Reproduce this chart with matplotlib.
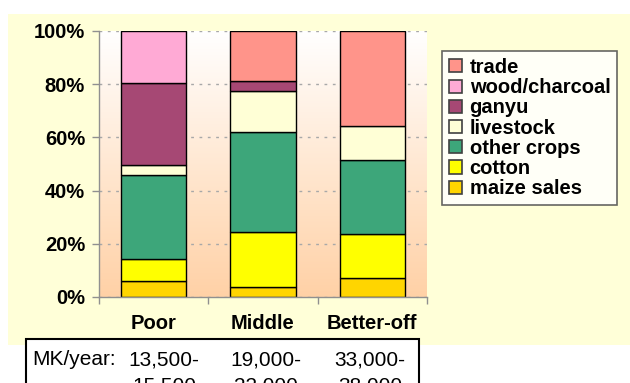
import matplotlib
matplotlib.use("Agg")
import matplotlib.pyplot as plt
import numpy as np
from matplotlib.patches import Rectangle, Patch
from matplotlib.colors import LinearSegmentedColormap

plt.rcParams['font.family'] = ['Liberation Sans', 'DejaVu Sans']

# Wealth groups and share of annual income (%) by source
groups = ["Poor", "Middle", "Better-off"]
sources = ["maize sales", "cotton", "other crops", "livestock", "ganyu", "wood/charcoal", "trade"]
maize_sales = [5.9, 3.9, 7.0]
cotton = [8.5, 20.4, 16.7]
other_crops = [31.3, 37.6, 27.7]
livestock = [3.9, 15.4, 12.9]
ganyu = [30.7, 3.8, 0.0]
wood_charcoal = [19.7, 0.0, 0.0]
trade = [0.0, 18.9, 35.7]
series = [maize_sales, cotton, other_crops, livestock, ganyu, wood_charcoal, trade]
colors = ["#FFD500", "#FFFF00", "#3DA67A", "#FFFFD6", "#A64874", "#FFAAD5", "#FF948A"]

income_low = ["13,500", "19,000", "33,000"]
income_high = ["15,500", "22,000", "38,000"]

yticks = [0, 20, 40, 60, 80, 100]

W, H = 630, 383
fig = plt.figure(figsize=(W / 100, H / 100), dpi=100)
fig.patch.set_facecolor("white")

# Cream chart panel (behind the axes)
fig.patches.append(Rectangle((8 / W, 1 - 345 / H), 622 / W, 331 / H,
                             transform=fig.transFigure, facecolor="#FFFFD8",
                             edgecolor="none", zorder=-5))

ax = fig.add_axes([99 / W, 1 - 297 / H, 328 / W, 266 / H])
ax.set_facecolor("none")

# Plot-area background fading from white to peach
grad = np.linspace(0, 1, 256).reshape(-1, 1)
cmap = LinearSegmentedColormap.from_list("bg", ["#FFFFFF", "#FFD1A6"])
ax.imshow(grad, aspect="auto", cmap=cmap, extent=[-0.5, 2.5, 0, 100],
          origin="upper", zorder=0)

x = np.arange(len(groups))
bottom = np.zeros(len(groups))
for vals, col in zip(series, colors):
    bars = ax.bar(x, vals, width=0.6, bottom=bottom, color=col,
                  edgecolor="black", linewidth=1.0, zorder=3)
    for b, v in zip(bars, vals):
        if v == 0:
            b.set_visible(False)
    bottom += np.array(vals)

ax.set_xlim(-0.5, 2.5)
ax.set_ylim(0, 100)
ax.set_yticks(yticks)
ax.set_yticklabels([f"{t}%" for t in yticks], fontsize=14.5, fontweight="bold")
ax.yaxis.grid(True, color="#A8A8A8", linestyle=(0, (2, 4)), linewidth=1.0, zorder=1)
ax.set_axisbelow(True)

ax.set_xticks(x)
ax.set_xticklabels(groups, fontsize=14.5, fontweight="bold")
ax.set_xticks([-0.5, 0.5, 1.5, 2.5], minor=True)
ax.tick_params(axis="x", which="major", length=0, pad=12)
ax.tick_params(axis="x", which="minor", length=5, color="#909090", width=1)
ax.tick_params(axis="y", length=5, color="#909090", width=1, pad=5)

for s in ["top", "right"]:
    ax.spines[s].set_visible(False)
for s in ["left", "bottom"]:
    ax.spines[s].set_color("#909090")
    ax.spines[s].set_linewidth(1.0)
    ax.spines[s].set_zorder(4)

# Legend, top series first
handles = [Patch(facecolor=c, edgecolor="#404040", linewidth=1.2)
           for c in colors][::-1]
leg = fig.legend(handles, sources[::-1], loc="upper left",
                 bbox_to_anchor=(442 / W, 1 - 51 / H),
                 bbox_transform=fig.transFigure, borderaxespad=0,
                 frameon=True, fancybox=False, shadow=False,
                 prop={"size": 14.5, "weight": "bold"},
                 handlelength=0.62, handleheight=0.62, handletextpad=0.4,
                 labelspacing=0.06, borderpad=0.35)
leg.get_frame().set_edgecolor("#404040")
leg.get_frame().set_linewidth(1.2)
leg.get_frame().set_facecolor("white")

# Income table below the chart
fig.patches.append(Rectangle((26 / W, -0.1), 393 / W, 0.1 + 1 - 339 / H,
                             transform=fig.transFigure, facecolor="white",
                             edgecolor="black", linewidth=1.5, zorder=5))
fig.text(32 / W, 1 - 365 / H, "MK/year:", fontsize=15, ha="left",
         va="baseline", zorder=6)
for xc, lo, hi in zip([164, 266, 370], income_low, income_high):
    fig.text(xc / W, 1 - 365 / H, f"{lo}-", fontsize=15, ha="center",
             va="baseline", zorder=6)
    fig.text(xc / W, 1 - 392 / H, hi, fontsize=15, ha="center",
             va="baseline", zorder=6)

fig.savefig("out.png", dpi=100)
